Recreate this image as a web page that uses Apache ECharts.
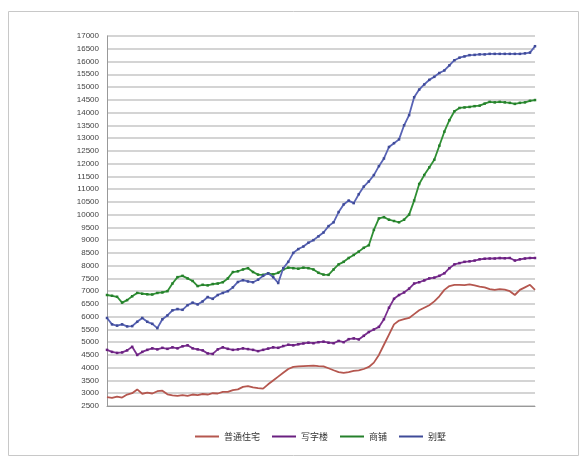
<!DOCTYPE html>
<html><head><meta charset="utf-8">
<script src="https://cdn.jsdelivr.net/npm/echarts@6/dist/echarts.min.js"></script>
<style>html,body{margin:0;padding:0;background:#fff}#c{width:588px;height:458px}</style>
</head><body><div id="c"></div>
<script>
const seriesNames = ['普通住宅', '写字楼', '商铺', '别墅'];
const yTicks = {min: 2500, max: 17000, interval: 500};
const categories = Array.from({length: 86}, (_, i) => String(i + 1));

const residential = [2850,2820,2870,2830,2950,3000,3150,2980,3020,2990,3080,3100,2960,2920,2900,2930,2900,2950,2930,2970,2950,3000,2990,3050,3050,3120,3150,3250,3280,3230,3200,3180,3350,3500,3650,3800,3950,4030,4050,4060,4070,4080,4060,4050,3980,3900,3830,3800,3830,3880,3900,3950,4030,4200,4500,4900,5300,5700,5850,5900,5950,6100,6250,6350,6450,6600,6800,7050,7200,7250,7250,7240,7270,7230,7180,7150,7080,7050,7080,7060,7000,6850,7050,7150,7250,7050];
const office = [4700,4620,4580,4600,4680,4820,4500,4620,4700,4760,4720,4780,4740,4800,4760,4840,4880,4760,4720,4680,4560,4540,4720,4800,4740,4700,4720,4760,4730,4700,4650,4700,4750,4800,4780,4850,4900,4880,4920,4950,4980,4960,5000,5020,4980,4960,5050,5000,5120,5150,5110,5250,5400,5500,5600,5900,6350,6700,6850,6950,7100,7300,7350,7420,7500,7530,7600,7700,7900,8050,8100,8150,8170,8200,8250,8270,8280,8280,8300,8290,8300,8200,8250,8280,8300,8300];
const shops = [6850,6820,6780,6550,6650,6800,6930,6900,6880,6870,6930,6950,7000,7300,7550,7600,7500,7400,7200,7250,7230,7280,7300,7350,7500,7750,7780,7850,7900,7750,7650,7640,7700,7660,7720,7850,7920,7900,7880,7920,7900,7850,7720,7650,7640,7850,8050,8150,8300,8420,8550,8700,8800,9400,9850,9900,9800,9750,9700,9800,10000,10550,11200,11550,11850,12150,12700,13250,13700,14050,14180,14200,14220,14250,14270,14350,14420,14400,14420,14400,14380,14340,14380,14400,14460,14490];
const villas = [5950,5700,5650,5700,5620,5630,5800,5950,5800,5720,5550,5900,6050,6250,6300,6270,6450,6550,6480,6600,6770,6700,6850,6930,7000,7150,7360,7430,7380,7350,7450,7600,7700,7550,7320,7900,8150,8500,8650,8750,8900,9000,9150,9300,9550,9700,10100,10400,10550,10450,10800,11100,11300,11550,11900,12200,12650,12800,12950,13500,13900,14600,14900,15100,15280,15400,15550,15650,15850,16050,16150,16200,16250,16260,16280,16280,16300,16300,16300,16300,16300,16300,16300,16320,16350,16600];

const colors = ['#b5574f', '#7a2f8f', '#2f8f34', '#5863b5'];
const markerColors = [null, '#6a2080', '#25802b', '#3f4b98'];
const dataSets = [residential, office, shops, villas];

const chart = echarts.init(document.getElementById('c'), null, {renderer: 'canvas'});
chart.setOption({
  animation: false,
  backgroundColor: '#fff',
  graphic: [{
    type: 'rect', shape: {x: 8.5, y: 11.5, width: 570, height: 444},
    style: {fill: 'none', stroke: '#c8c8c8', lineWidth: 1}, silent: true, z: -1
  }],
  grid: {left: 107, right: 53, top: 36, bottom: 52},
  legend: {
    bottom: 12, left: 190, itemWidth: 24, itemHeight: 2, itemGap: 12,
    icon: 'rect',
    textStyle: {fontSize: 9, color: '#333', fontFamily: 'Noto Sans CJK SC'},
    data: seriesNames
  },
  xAxis: {
    type: 'category', data: categories, boundaryGap: false,
    axisLine: {lineStyle: {color: '#999'}}, axisTick: {show: false}, axisLabel: {show: false},
    splitLine: {show: false}
  },
  yAxis: {
    type: 'value', min: yTicks.min, max: yTicks.max, interval: yTicks.interval,
    axisLine: {show: true, lineStyle: {color: '#999'}}, axisTick: {show: false},
    axisLabel: {fontSize: 8, color: '#444', margin: 8, fontFamily: 'Liberation Sans',
      formatter: v => String(v)},
    splitLine: {lineStyle: {color: '#c6c6c6', width: 1.5}}
  },
  series: dataSets.map((d, i) => ({
    name: seriesNames[i], type: 'line', data: d,
    symbol: i === 0 ? 'none' : 'rect', symbolSize: 2.5, showSymbol: i !== 0,
    lineStyle: {color: colors[i], width: 1.8},
    itemStyle: {color: markerColors[i] || colors[i]},
    z: 2 + i
  }))
});
</script></body></html>
